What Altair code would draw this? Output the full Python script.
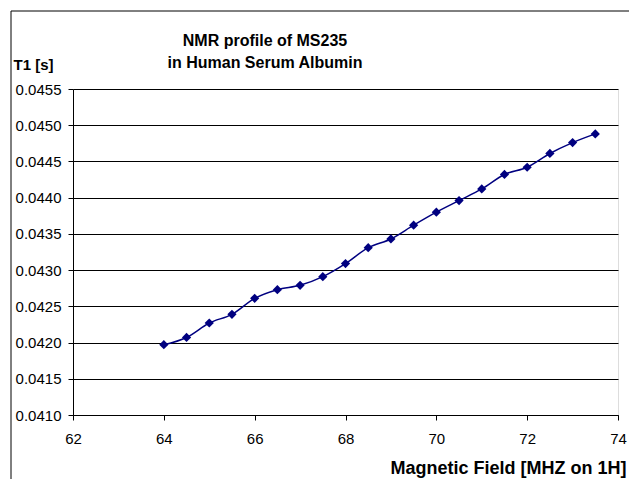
import altair as alt
import pandas as pd

field_mhz = [64.0, 64.5, 65.0, 65.5, 66.0, 66.5, 67.0, 67.5, 68.0, 68.5,
             69.0, 69.5, 70.0, 70.5, 71.0, 71.5, 72.0, 72.5, 73.0, 73.5]
t1_s = [0.04197, 0.04207, 0.04227, 0.04239, 0.04261, 0.04273, 0.04279, 0.04291,
        0.04309, 0.04331, 0.04343, 0.04362, 0.04380, 0.04396, 0.04412, 0.04432,
        0.04442, 0.04461, 0.04476, 0.04488]
x_ticks = [62, 64, 66, 68, 70, 72, 74]
y_ticks = [0.0410, 0.0415, 0.0420, 0.0425, 0.0430, 0.0435, 0.0440, 0.0445, 0.0450, 0.0455]
title_lines = ["NMR profile of MS235", "in Human Serum Albumin"]

df = pd.DataFrame({"field": field_mhz, "t1": t1_s})
one = pd.DataFrame({"k": [0]})

FONT = "Arial, Liberation Sans, sans-serif"
NAVY = "#000080"

x_enc = alt.X(
    "field:Q",
    scale=alt.Scale(domain=[62, 74], nice=False, zero=False),
    axis=alt.Axis(
        values=x_ticks, tickCount=20, format="d", grid=False,
        title="Magnetic Field [MHZ on 1H]",
        titleFont=FONT, titleFontSize=18, titleFontWeight="bold", titleColor="black",
        titleAnchor="start", titleAlign="left", titleBaseline="alphabetic",
        titleX=317, titleY=58,
        labelFont=FONT, labelFontSize=15, labelColor="black", labelPadding=11,
        tickColor="black", tickSize=5, domainColor="black", labelFlush=False,
        labelOverlap=False,
    ),
)
y_enc = alt.Y(
    "t1:Q",
    scale=alt.Scale(domain=[0.0410, 0.0455], nice=False, zero=False),
    axis=alt.Axis(
        values=y_ticks, tickCount=30, format=".4f", grid=True, gridColor="black",
        gridWidth=1, gridOpacity=1,
        title="T1 [s]", titleAngle=0,
        titleFont=FONT, titleFontSize=15, titleFontWeight="bold", titleColor="black",
        titleAlign="left", titleBaseline="alphabetic", titleX=-60, titleY=-20,
        labelFont=FONT, labelFontSize=15, labelColor="black", labelPadding=7,
        tickColor="black", tickSize=5, domainColor="black", labelFlush=False,
        labelOverlap=False,
    ),
)

line = alt.Chart(df).mark_line(color=NAVY, strokeWidth=1.5, interpolate="monotone").encode(x=x_enc, y=y_enc)
pts = alt.Chart(df).mark_point(shape="diamond", filled=True, color=NAVY, size=85, opacity=1).encode(
    x="field:Q", y="t1:Q"
)

frame = alt.Chart(one).mark_rect(fill=None, stroke="black", strokeWidth=1).encode(
    x=alt.value(-62), y=alt.value(-78), x2=alt.value(800), y2=alt.value(600)
)

title = alt.Chart(one).mark_text(
    font=FONT, fontSize=16, fontWeight="bold", color="black",
    align="center", baseline="alphabetic", lineHeight=21.5,
).encode(x=alt.value(192), y=alt.value(-43), text=alt.value(title_lines))

chart = alt.layer(frame, line, pts, title).properties(
    width=545,
    height=326,
    padding={"left": 65, "top": 81, "right": 11, "bottom": 64},
    autosize=alt.AutoSizeParams(type="none"),
).configure_view(stroke="#808080", strokeWidth=1).configure(background="white")

chart.save("out.html", embed_options={"renderer": "svg", "actions": False})
